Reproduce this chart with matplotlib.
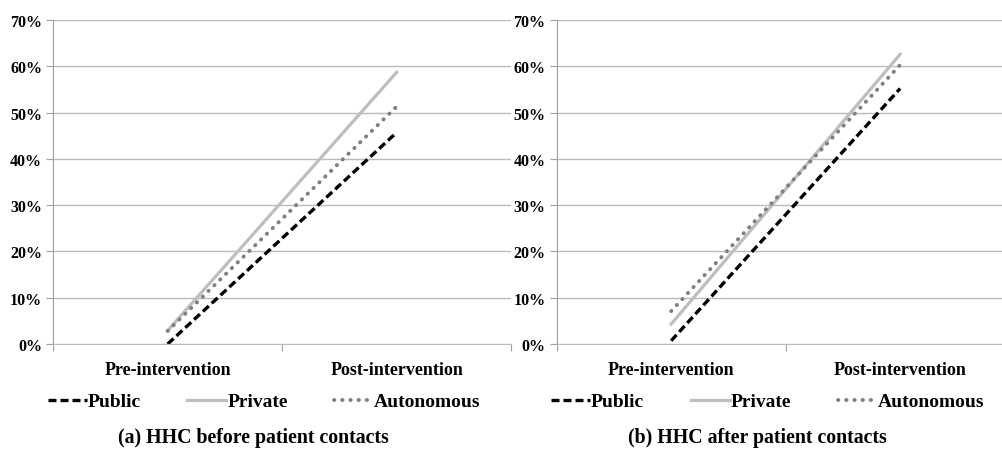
import matplotlib.pyplot as plt
from matplotlib.ticker import PercentFormatter

# Data
categories = ["Pre-intervention", "Post-intervention"]
series_names = ["Public", "Private", "Autonomous"]
before_contact = {
    "Public": [0.0, 45.7],
    "Private": [2.9, 58.7],
    "Autonomous": [2.8, 51.3],
}
after_contact = {
    "Public": [0.7, 55.2],
    "Private": [4.3, 62.6],
    "Autonomous": [7.1, 60.3],
}
captions = ["(a) HHC before patient contacts", "(b) HHC after patient contacts"]

plt.rcParams['font.family'] = ['Liberation Serif', 'DejaVu Serif']
plt.rcParams['font.weight'] = 'bold'

styles = {
    "Public": dict(color='black', linestyle=(0, (2.4, 1.2)), linewidth=2.4),
    "Private": dict(color='#BEBEBE', linestyle='-', linewidth=2.3),
    "Autonomous": dict(color='#808080', linestyle=(0, (0.1, 2.0)), linewidth=2.8,
                       dash_capstyle='round'),
}

fig = plt.figure(figsize=(10.03, 4.56), dpi=100)
ax1 = fig.add_axes([0.053, 0.2434, 0.4566, 0.7105])
ax2 = fig.add_axes([0.555, 0.2434, 0.4566, 0.7105])

for ax, data, cap in zip([ax1, ax2], [before_contact, after_contact], captions):
    x = list(range(len(categories)))
    for name in series_names:
        ax.plot(x, data[name], label=name, **styles[name])
    ax.set_xlim(-0.5, 1.5)
    ax.set_ylim(0, 70)
    ax.set_yticks(range(0, 71, 10))
    ax.yaxis.set_major_formatter(PercentFormatter(decimals=0))
    ax.set_xticks([-0.5, 0.5, 1.5])
    ax.set_xticklabels([])
    ax.set_xticks(x, minor=True)
    ax.set_xticklabels(categories, minor=True)
    ax.tick_params(axis='x', which='minor', length=0, pad=12, labelsize=13)
    ax.tick_params(axis='x', which='major', length=5, color='#A0A0A0', direction='out')
    ax.tick_params(axis='y', length=5, color='#A0A0A0', labelsize=11.5, pad=3)
    ax.grid(axis='y', color='#BBBBBB', linewidth=1)
    ax.set_axisbelow(True)
    for s in ['top', 'right']:
        ax.spines[s].set_visible(False)
    ax.spines['left'].set_color('#A0A0A0')
    ax.spines['bottom'].set_color('#BBBBBB')
    ax.legend(loc='center left', bbox_to_anchor=(-0.012, -0.178), ncol=3,
              frameon=False, fontsize=14, handlelength=2.0,
              handletextpad=0.05, columnspacing=2.4, borderpad=0, borderaxespad=0)
    ax.text(0.438, -0.255, cap, transform=ax.transAxes, ha='center', va='top',
            fontsize=14.3, fontweight='bold')

plt.savefig("out.png", dpi=100)
